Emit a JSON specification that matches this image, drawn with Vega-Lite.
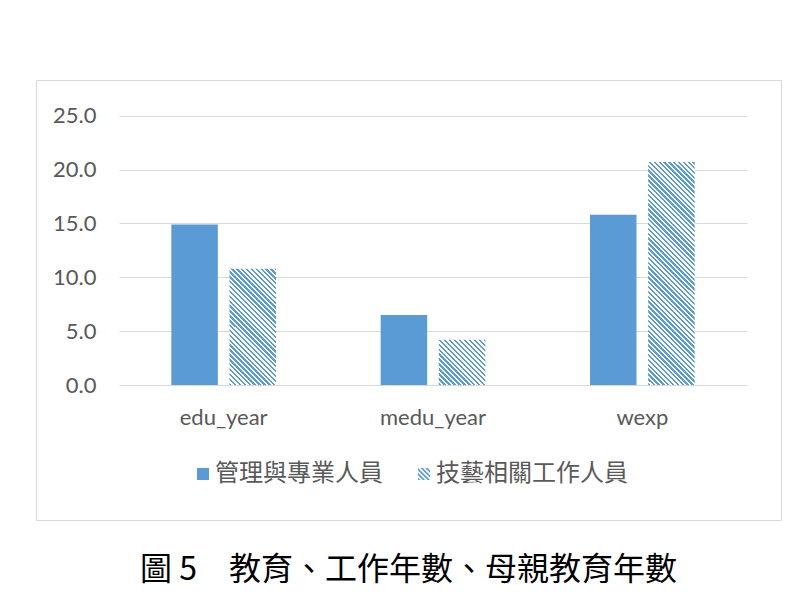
{
  "$schema": "https://vega.github.io/schema/vega-lite/v6.json",
  "width": 745,
  "height": 440,
  "autosize": {"type": "none"},
  "padding": {"left": 36, "top": 80, "right": 14, "bottom": 72},
  "background": "#ffffff",
  "config": {
    "view": {"stroke": "#d9d9d9", "strokeWidth": 1},
    "axis": {"labelFont": "Lato", "labelFontSize": 22, "labelColor": "#595959"}
  },
  "title": {
    "text": "圖 5　教育、工作年數、母親教育年數",
    "orient": "bottom",
    "anchor": "middle",
    "offset": 35,
    "baseline": "top",
    "font": "Noto Sans CJK TC",
    "fontSize": 32,
    "fontWeight": "normal",
    "color": "#000000"
  },
  "data": {
    "values": [
      {"category": "edu_year", "group": "管理與專業人員", "value": 14.9},
      {"category": "edu_year", "group": "技藝相關工作人員", "value": 10.8},
      {"category": "medu_year", "group": "管理與專業人員", "value": 6.5},
      {"category": "medu_year", "group": "技藝相關工作人員", "value": 4.2},
      {"category": "wexp", "group": "管理與專業人員", "value": 15.8},
      {"category": "wexp", "group": "技藝相關工作人員", "value": 20.7}
    ]
  },
  "encoding": {
    "x": {
      "field": "category", "type": "nominal",
      "scale": {"domain": ["edu_year", "medu_year", "wexp"], "range": [83, 711], "paddingInner": 0.5, "paddingOuter": 0.25},
      "axis": {"title": null, "orient": "bottom", "offset": -135, "domain": false, "ticks": false, "labelPadding": 22, "labelAngle": 0, "grid": false}
    },
    "xOffset": {
      "field": "group", "type": "nominal",
      "scale": {"domain": ["管理與專業人員", "技藝相關工作人員"], "paddingInner": 0.2, "paddingOuter": 0}
    },
    "y": {
      "field": "value", "type": "quantitative",
      "scale": {"domain": [0, 25], "range": [305, 35.67], "nice": false},
      "axis": {"title": null, "values": [0, 5, 10, 15, 20, 25], "format": ".1f", "offset": -83, "domain": false, "ticks": false, "labelPadding": 23, "grid": true, "gridColor": "#d9d9d9", "gridWidth": 1}
    }
  },
  "layer": [
    {
      "transform": [{"filter": "datum.group === '管理與專業人員'"}],
      "mark": {"type": "bar"},
      "encoding": {
        "color": {
          "field": "group", "type": "nominal",
          "scale": {"domain": ["管理與專業人員", "技藝相關工作人員"], "range": ["#5b9bd5", "#5b9bd5"]},
          "legend": {
            "orient": "none", "legendX": 155, "legendY": 382, "direction": "horizontal", "title": null,
            "symbolType": {"expr": "datum.value === '技藝相關工作人員' ? 'M-1,1L-1,0.6L-0.6,1ZM-1,0.2L-1,-0.2L0.2,1L-0.2,1ZM-1,-0.6L-1,-1L1,1L0.6,1ZM-0.6,-1L-0.2,-1L1,0.2L1,0.6ZM0.2,-1L0.6,-1L1,-0.6L1,-0.2Z' : 'square'"},
            "symbolSize": 144, "symbolStrokeWidth": 0,
            "labelFont": "Noto Sans CJK TC", "labelFontSize": 24, "labelColor": "#595959", "labelLimit": 0,
            "labelOffset": 0, "columnPadding": 29, "padding": 0
          }
        }
      }
    },
    {
      "transform": [{"filter": "datum.group === '技藝相關工作人員' && datum.category === 'edu_year'"}],
      "mark": {"type": "bar", "fill": {"gradient": "linear", "x1": 0, "y1": 1, "x2": 0.4825, "y2": -0.2069, "stops": [
        {"offset": 0, "color": "#5b9bd5"},
        {"offset": 0.015, "color": "#5b9bd5"}, {"offset": 0.015, "color": "#fff"},
        {"offset": 0.03, "color": "#fff"}, {"offset": 0.03, "color": "#5b9bd5"},
        {"offset": 0.045, "color": "#5b9bd5"}, {"offset": 0.045, "color": "#fff"},
        {"offset": 0.06, "color": "#fff"}, {"offset": 0.06, "color": "#5b9bd5"},
        {"offset": 0.075, "color": "#5b9bd5"}, {"offset": 0.075, "color": "#fff"},
        {"offset": 0.09, "color": "#fff"}, {"offset": 0.09, "color": "#5b9bd5"},
        {"offset": 0.105, "color": "#5b9bd5"}, {"offset": 0.105, "color": "#fff"},
        {"offset": 0.12, "color": "#fff"}, {"offset": 0.12, "color": "#5b9bd5"},
        {"offset": 0.135, "color": "#5b9bd5"}, {"offset": 0.135, "color": "#fff"},
        {"offset": 0.15, "color": "#fff"}, {"offset": 0.15, "color": "#5b9bd5"},
        {"offset": 0.165, "color": "#5b9bd5"}, {"offset": 0.165, "color": "#fff"},
        {"offset": 0.18, "color": "#fff"}, {"offset": 0.18, "color": "#5b9bd5"},
        {"offset": 0.195, "color": "#5b9bd5"}, {"offset": 0.195, "color": "#fff"},
        {"offset": 0.21, "color": "#fff"}, {"offset": 0.21, "color": "#5b9bd5"},
        {"offset": 0.225, "color": "#5b9bd5"}, {"offset": 0.225, "color": "#fff"},
        {"offset": 0.24, "color": "#fff"}, {"offset": 0.24, "color": "#5b9bd5"},
        {"offset": 0.255, "color": "#5b9bd5"}, {"offset": 0.255, "color": "#fff"},
        {"offset": 0.27, "color": "#fff"}, {"offset": 0.27, "color": "#5b9bd5"},
        {"offset": 0.285, "color": "#5b9bd5"}, {"offset": 0.285, "color": "#fff"},
        {"offset": 0.3, "color": "#fff"}, {"offset": 0.3, "color": "#5b9bd5"},
        {"offset": 0.315, "color": "#5b9bd5"}, {"offset": 0.315, "color": "#fff"},
        {"offset": 0.33, "color": "#fff"}, {"offset": 0.33, "color": "#5b9bd5"},
        {"offset": 0.345, "color": "#5b9bd5"}, {"offset": 0.345, "color": "#fff"},
        {"offset": 0.36, "color": "#fff"}, {"offset": 0.36, "color": "#5b9bd5"},
        {"offset": 0.375, "color": "#5b9bd5"}, {"offset": 0.375, "color": "#fff"},
        {"offset": 0.39, "color": "#fff"}, {"offset": 0.39, "color": "#5b9bd5"},
        {"offset": 0.405, "color": "#5b9bd5"}, {"offset": 0.405, "color": "#fff"},
        {"offset": 0.42, "color": "#fff"}, {"offset": 0.42, "color": "#5b9bd5"},
        {"offset": 0.435, "color": "#5b9bd5"}, {"offset": 0.435, "color": "#fff"},
        {"offset": 0.45, "color": "#fff"}, {"offset": 0.45, "color": "#5b9bd5"},
        {"offset": 0.465, "color": "#5b9bd5"}, {"offset": 0.465, "color": "#fff"},
        {"offset": 0.48, "color": "#fff"}, {"offset": 0.48, "color": "#5b9bd5"},
        {"offset": 0.495, "color": "#5b9bd5"}, {"offset": 0.495, "color": "#fff"},
        {"offset": 0.51, "color": "#fff"}, {"offset": 0.51, "color": "#5b9bd5"},
        {"offset": 0.525, "color": "#5b9bd5"}, {"offset": 0.525, "color": "#fff"},
        {"offset": 0.54, "color": "#fff"}, {"offset": 0.54, "color": "#5b9bd5"},
        {"offset": 0.555, "color": "#5b9bd5"}, {"offset": 0.555, "color": "#fff"},
        {"offset": 0.57, "color": "#fff"}, {"offset": 0.57, "color": "#5b9bd5"},
        {"offset": 0.585, "color": "#5b9bd5"}, {"offset": 0.585, "color": "#fff"},
        {"offset": 0.6, "color": "#fff"}, {"offset": 0.6, "color": "#5b9bd5"},
        {"offset": 0.615, "color": "#5b9bd5"}, {"offset": 0.615, "color": "#fff"},
        {"offset": 0.63, "color": "#fff"}, {"offset": 0.63, "color": "#5b9bd5"},
        {"offset": 0.645, "color": "#5b9bd5"}, {"offset": 0.645, "color": "#fff"},
        {"offset": 0.66, "color": "#fff"}, {"offset": 0.66, "color": "#5b9bd5"},
        {"offset": 0.675, "color": "#5b9bd5"}, {"offset": 0.675, "color": "#fff"},
        {"offset": 0.69, "color": "#fff"}, {"offset": 0.69, "color": "#5b9bd5"},
        {"offset": 0.705, "color": "#5b9bd5"}, {"offset": 0.705, "color": "#fff"},
        {"offset": 0.72, "color": "#fff"}, {"offset": 0.72, "color": "#5b9bd5"},
        {"offset": 0.735, "color": "#5b9bd5"}, {"offset": 0.735, "color": "#fff"},
        {"offset": 0.75, "color": "#fff"}, {"offset": 0.75, "color": "#5b9bd5"},
        {"offset": 0.765, "color": "#5b9bd5"}, {"offset": 0.765, "color": "#fff"},
        {"offset": 0.78, "color": "#fff"}, {"offset": 0.78, "color": "#5b9bd5"},
        {"offset": 0.795, "color": "#5b9bd5"}, {"offset": 0.795, "color": "#fff"},
        {"offset": 0.81, "color": "#fff"}, {"offset": 0.81, "color": "#5b9bd5"},
        {"offset": 0.825, "color": "#5b9bd5"}, {"offset": 0.825, "color": "#fff"},
        {"offset": 0.84, "color": "#fff"}, {"offset": 0.84, "color": "#5b9bd5"},
        {"offset": 0.855, "color": "#5b9bd5"}, {"offset": 0.855, "color": "#fff"},
        {"offset": 0.87, "color": "#fff"}, {"offset": 0.87, "color": "#5b9bd5"},
        {"offset": 0.885, "color": "#5b9bd5"}, {"offset": 0.885, "color": "#fff"},
        {"offset": 0.9, "color": "#fff"}, {"offset": 0.9, "color": "#5b9bd5"},
        {"offset": 0.915, "color": "#5b9bd5"}, {"offset": 0.915, "color": "#fff"},
        {"offset": 0.93, "color": "#fff"}, {"offset": 0.93, "color": "#5b9bd5"},
        {"offset": 0.945, "color": "#5b9bd5"}, {"offset": 0.945, "color": "#fff"},
        {"offset": 0.96, "color": "#fff"}, {"offset": 0.96, "color": "#5b9bd5"},
        {"offset": 0.975, "color": "#5b9bd5"}, {"offset": 0.975, "color": "#fff"},
        {"offset": 0.99, "color": "#fff"}, {"offset": 0.99, "color": "#5b9bd5"},
        {"offset": 1, "color": "#5b9bd5"}
      ]}}
    },
    {
      "transform": [{"filter": "datum.group === '技藝相關工作人員' && datum.category === 'medu_year'"}],
      "mark": {"type": "bar", "fill": {"gradient": "linear", "x1": 0, "y1": 1, "x2": 1.0134, "y2": 0.0138, "stops": [
        {"offset": 0, "color": "#5b9bd5"},
        {"offset": 0.027, "color": "#5b9bd5"}, {"offset": 0.027, "color": "#fff"},
        {"offset": 0.054, "color": "#fff"}, {"offset": 0.054, "color": "#5b9bd5"},
        {"offset": 0.081, "color": "#5b9bd5"}, {"offset": 0.081, "color": "#fff"},
        {"offset": 0.108, "color": "#fff"}, {"offset": 0.108, "color": "#5b9bd5"},
        {"offset": 0.135, "color": "#5b9bd5"}, {"offset": 0.135, "color": "#fff"},
        {"offset": 0.162, "color": "#fff"}, {"offset": 0.162, "color": "#5b9bd5"},
        {"offset": 0.189, "color": "#5b9bd5"}, {"offset": 0.189, "color": "#fff"},
        {"offset": 0.216, "color": "#fff"}, {"offset": 0.216, "color": "#5b9bd5"},
        {"offset": 0.243, "color": "#5b9bd5"}, {"offset": 0.243, "color": "#fff"},
        {"offset": 0.27, "color": "#fff"}, {"offset": 0.27, "color": "#5b9bd5"},
        {"offset": 0.297, "color": "#5b9bd5"}, {"offset": 0.297, "color": "#fff"},
        {"offset": 0.324, "color": "#fff"}, {"offset": 0.324, "color": "#5b9bd5"},
        {"offset": 0.351, "color": "#5b9bd5"}, {"offset": 0.351, "color": "#fff"},
        {"offset": 0.378, "color": "#fff"}, {"offset": 0.378, "color": "#5b9bd5"},
        {"offset": 0.405, "color": "#5b9bd5"}, {"offset": 0.405, "color": "#fff"},
        {"offset": 0.432, "color": "#fff"}, {"offset": 0.432, "color": "#5b9bd5"},
        {"offset": 0.459, "color": "#5b9bd5"}, {"offset": 0.459, "color": "#fff"},
        {"offset": 0.486, "color": "#fff"}, {"offset": 0.486, "color": "#5b9bd5"},
        {"offset": 0.513, "color": "#5b9bd5"}, {"offset": 0.513, "color": "#fff"},
        {"offset": 0.54, "color": "#fff"}, {"offset": 0.54, "color": "#5b9bd5"},
        {"offset": 0.567, "color": "#5b9bd5"}, {"offset": 0.567, "color": "#fff"},
        {"offset": 0.594, "color": "#fff"}, {"offset": 0.594, "color": "#5b9bd5"},
        {"offset": 0.621, "color": "#5b9bd5"}, {"offset": 0.621, "color": "#fff"},
        {"offset": 0.648, "color": "#fff"}, {"offset": 0.648, "color": "#5b9bd5"},
        {"offset": 0.675, "color": "#5b9bd5"}, {"offset": 0.675, "color": "#fff"},
        {"offset": 0.702, "color": "#fff"}, {"offset": 0.702, "color": "#5b9bd5"},
        {"offset": 0.729, "color": "#5b9bd5"}, {"offset": 0.729, "color": "#fff"},
        {"offset": 0.756, "color": "#fff"}, {"offset": 0.756, "color": "#5b9bd5"},
        {"offset": 0.783, "color": "#5b9bd5"}, {"offset": 0.783, "color": "#fff"},
        {"offset": 0.81, "color": "#fff"}, {"offset": 0.81, "color": "#5b9bd5"},
        {"offset": 0.837, "color": "#5b9bd5"}, {"offset": 0.837, "color": "#fff"},
        {"offset": 0.864, "color": "#fff"}, {"offset": 0.864, "color": "#5b9bd5"},
        {"offset": 0.891, "color": "#5b9bd5"}, {"offset": 0.891, "color": "#fff"},
        {"offset": 0.918, "color": "#fff"}, {"offset": 0.918, "color": "#5b9bd5"},
        {"offset": 0.945, "color": "#5b9bd5"}, {"offset": 0.945, "color": "#fff"},
        {"offset": 0.972, "color": "#fff"}, {"offset": 0.972, "color": "#5b9bd5"},
        {"offset": 0.999, "color": "#5b9bd5"}, {"offset": 0.999, "color": "#fff"},
        {"offset": 1, "color": "#fff"}
      ]}}
    },
    {
      "transform": [{"filter": "datum.group === '技藝相關工作人員' && datum.category === 'wexp'"}],
      "mark": {"type": "bar", "fill": {"gradient": "linear", "x1": 0, "y1": 1, "x2": 0.2415, "y2": -0.1582, "stops": [
        {"offset": 0, "color": "#5b9bd5"},
        {"offset": 0.009, "color": "#5b9bd5"}, {"offset": 0.009, "color": "#fff"},
        {"offset": 0.018, "color": "#fff"}, {"offset": 0.018, "color": "#5b9bd5"},
        {"offset": 0.027, "color": "#5b9bd5"}, {"offset": 0.027, "color": "#fff"},
        {"offset": 0.036, "color": "#fff"}, {"offset": 0.036, "color": "#5b9bd5"},
        {"offset": 0.045, "color": "#5b9bd5"}, {"offset": 0.045, "color": "#fff"},
        {"offset": 0.054, "color": "#fff"}, {"offset": 0.054, "color": "#5b9bd5"},
        {"offset": 0.063, "color": "#5b9bd5"}, {"offset": 0.063, "color": "#fff"},
        {"offset": 0.072, "color": "#fff"}, {"offset": 0.072, "color": "#5b9bd5"},
        {"offset": 0.081, "color": "#5b9bd5"}, {"offset": 0.081, "color": "#fff"},
        {"offset": 0.09, "color": "#fff"}, {"offset": 0.09, "color": "#5b9bd5"},
        {"offset": 0.099, "color": "#5b9bd5"}, {"offset": 0.099, "color": "#fff"},
        {"offset": 0.108, "color": "#fff"}, {"offset": 0.108, "color": "#5b9bd5"},
        {"offset": 0.117, "color": "#5b9bd5"}, {"offset": 0.117, "color": "#fff"},
        {"offset": 0.126, "color": "#fff"}, {"offset": 0.126, "color": "#5b9bd5"},
        {"offset": 0.135, "color": "#5b9bd5"}, {"offset": 0.135, "color": "#fff"},
        {"offset": 0.144, "color": "#fff"}, {"offset": 0.144, "color": "#5b9bd5"},
        {"offset": 0.153, "color": "#5b9bd5"}, {"offset": 0.153, "color": "#fff"},
        {"offset": 0.162, "color": "#fff"}, {"offset": 0.162, "color": "#5b9bd5"},
        {"offset": 0.171, "color": "#5b9bd5"}, {"offset": 0.171, "color": "#fff"},
        {"offset": 0.18, "color": "#fff"}, {"offset": 0.18, "color": "#5b9bd5"},
        {"offset": 0.189, "color": "#5b9bd5"}, {"offset": 0.189, "color": "#fff"},
        {"offset": 0.198, "color": "#fff"}, {"offset": 0.198, "color": "#5b9bd5"},
        {"offset": 0.207, "color": "#5b9bd5"}, {"offset": 0.207, "color": "#fff"},
        {"offset": 0.216, "color": "#fff"}, {"offset": 0.216, "color": "#5b9bd5"},
        {"offset": 0.225, "color": "#5b9bd5"}, {"offset": 0.225, "color": "#fff"},
        {"offset": 0.234, "color": "#fff"}, {"offset": 0.234, "color": "#5b9bd5"},
        {"offset": 0.243, "color": "#5b9bd5"}, {"offset": 0.243, "color": "#fff"},
        {"offset": 0.252, "color": "#fff"}, {"offset": 0.252, "color": "#5b9bd5"},
        {"offset": 0.261, "color": "#5b9bd5"}, {"offset": 0.261, "color": "#fff"},
        {"offset": 0.27, "color": "#fff"}, {"offset": 0.27, "color": "#5b9bd5"},
        {"offset": 0.279, "color": "#5b9bd5"}, {"offset": 0.279, "color": "#fff"},
        {"offset": 0.288, "color": "#fff"}, {"offset": 0.288, "color": "#5b9bd5"},
        {"offset": 0.297, "color": "#5b9bd5"}, {"offset": 0.297, "color": "#fff"},
        {"offset": 0.306, "color": "#fff"}, {"offset": 0.306, "color": "#5b9bd5"},
        {"offset": 0.315, "color": "#5b9bd5"}, {"offset": 0.315, "color": "#fff"},
        {"offset": 0.324, "color": "#fff"}, {"offset": 0.324, "color": "#5b9bd5"},
        {"offset": 0.333, "color": "#5b9bd5"}, {"offset": 0.333, "color": "#fff"},
        {"offset": 0.342, "color": "#fff"}, {"offset": 0.342, "color": "#5b9bd5"},
        {"offset": 0.351, "color": "#5b9bd5"}, {"offset": 0.351, "color": "#fff"},
        {"offset": 0.36, "color": "#fff"}, {"offset": 0.36, "color": "#5b9bd5"},
        {"offset": 0.369, "color": "#5b9bd5"}, {"offset": 0.369, "color": "#fff"},
        {"offset": 0.378, "color": "#fff"}, {"offset": 0.378, "color": "#5b9bd5"},
        {"offset": 0.387, "color": "#5b9bd5"}, {"offset": 0.387, "color": "#fff"},
        {"offset": 0.396, "color": "#fff"}, {"offset": 0.396, "color": "#5b9bd5"},
        {"offset": 0.405, "color": "#5b9bd5"}, {"offset": 0.405, "color": "#fff"},
        {"offset": 0.414, "color": "#fff"}, {"offset": 0.414, "color": "#5b9bd5"},
        {"offset": 0.423, "color": "#5b9bd5"}, {"offset": 0.423, "color": "#fff"},
        {"offset": 0.432, "color": "#fff"}, {"offset": 0.432, "color": "#5b9bd5"},
        {"offset": 0.441, "color": "#5b9bd5"}, {"offset": 0.441, "color": "#fff"},
        {"offset": 0.45, "color": "#fff"}, {"offset": 0.45, "color": "#5b9bd5"},
        {"offset": 0.459, "color": "#5b9bd5"}, {"offset": 0.459, "color": "#fff"},
        {"offset": 0.468, "color": "#fff"}, {"offset": 0.468, "color": "#5b9bd5"},
        {"offset": 0.477, "color": "#5b9bd5"}, {"offset": 0.477, "color": "#fff"},
        {"offset": 0.486, "color": "#fff"}, {"offset": 0.486, "color": "#5b9bd5"},
        {"offset": 0.495, "color": "#5b9bd5"}, {"offset": 0.495, "color": "#fff"},
        {"offset": 0.504, "color": "#fff"}, {"offset": 0.504, "color": "#5b9bd5"},
        {"offset": 0.513, "color": "#5b9bd5"}, {"offset": 0.513, "color": "#fff"},
        {"offset": 0.522, "color": "#fff"}, {"offset": 0.522, "color": "#5b9bd5"},
        {"offset": 0.531, "color": "#5b9bd5"}, {"offset": 0.531, "color": "#fff"},
        {"offset": 0.54, "color": "#fff"}, {"offset": 0.54, "color": "#5b9bd5"},
        {"offset": 0.549, "color": "#5b9bd5"}, {"offset": 0.549, "color": "#fff"},
        {"offset": 0.558, "color": "#fff"}, {"offset": 0.558, "color": "#5b9bd5"},
        {"offset": 0.567, "color": "#5b9bd5"}, {"offset": 0.567, "color": "#fff"},
        {"offset": 0.576, "color": "#fff"}, {"offset": 0.576, "color": "#5b9bd5"},
        {"offset": 0.585, "color": "#5b9bd5"}, {"offset": 0.585, "color": "#fff"},
        {"offset": 0.594, "color": "#fff"}, {"offset": 0.594, "color": "#5b9bd5"},
        {"offset": 0.603, "color": "#5b9bd5"}, {"offset": 0.603, "color": "#fff"},
        {"offset": 0.612, "color": "#fff"}, {"offset": 0.612, "color": "#5b9bd5"},
        {"offset": 0.621, "color": "#5b9bd5"}, {"offset": 0.621, "color": "#fff"},
        {"offset": 0.63, "color": "#fff"}, {"offset": 0.63, "color": "#5b9bd5"},
        {"offset": 0.639, "color": "#5b9bd5"}, {"offset": 0.639, "color": "#fff"},
        {"offset": 0.648, "color": "#fff"}, {"offset": 0.648, "color": "#5b9bd5"},
        {"offset": 0.657, "color": "#5b9bd5"}, {"offset": 0.657, "color": "#fff"},
        {"offset": 0.666, "color": "#fff"}, {"offset": 0.666, "color": "#5b9bd5"},
        {"offset": 0.675, "color": "#5b9bd5"}, {"offset": 0.675, "color": "#fff"},
        {"offset": 0.684, "color": "#fff"}, {"offset": 0.684, "color": "#5b9bd5"},
        {"offset": 0.693, "color": "#5b9bd5"}, {"offset": 0.693, "color": "#fff"},
        {"offset": 0.702, "color": "#fff"}, {"offset": 0.702, "color": "#5b9bd5"},
        {"offset": 0.711, "color": "#5b9bd5"}, {"offset": 0.711, "color": "#fff"},
        {"offset": 0.72, "color": "#fff"}, {"offset": 0.72, "color": "#5b9bd5"},
        {"offset": 0.729, "color": "#5b9bd5"}, {"offset": 0.729, "color": "#fff"},
        {"offset": 0.738, "color": "#fff"}, {"offset": 0.738, "color": "#5b9bd5"},
        {"offset": 0.747, "color": "#5b9bd5"}, {"offset": 0.747, "color": "#fff"},
        {"offset": 0.756, "color": "#fff"}, {"offset": 0.756, "color": "#5b9bd5"},
        {"offset": 0.765, "color": "#5b9bd5"}, {"offset": 0.765, "color": "#fff"},
        {"offset": 0.774, "color": "#fff"}, {"offset": 0.774, "color": "#5b9bd5"},
        {"offset": 0.783, "color": "#5b9bd5"}, {"offset": 0.783, "color": "#fff"},
        {"offset": 0.792, "color": "#fff"}, {"offset": 0.792, "color": "#5b9bd5"},
        {"offset": 0.801, "color": "#5b9bd5"}, {"offset": 0.801, "color": "#fff"},
        {"offset": 0.81, "color": "#fff"}, {"offset": 0.81, "color": "#5b9bd5"},
        {"offset": 0.819, "color": "#5b9bd5"}, {"offset": 0.819, "color": "#fff"},
        {"offset": 0.828, "color": "#fff"}, {"offset": 0.828, "color": "#5b9bd5"},
        {"offset": 0.837, "color": "#5b9bd5"}, {"offset": 0.837, "color": "#fff"},
        {"offset": 0.846, "color": "#fff"}, {"offset": 0.846, "color": "#5b9bd5"},
        {"offset": 0.855, "color": "#5b9bd5"}, {"offset": 0.855, "color": "#fff"},
        {"offset": 0.864, "color": "#fff"}, {"offset": 0.864, "color": "#5b9bd5"},
        {"offset": 0.873, "color": "#5b9bd5"}, {"offset": 0.873, "color": "#fff"},
        {"offset": 0.882, "color": "#fff"}, {"offset": 0.882, "color": "#5b9bd5"},
        {"offset": 0.891, "color": "#5b9bd5"}, {"offset": 0.891, "color": "#fff"},
        {"offset": 0.9, "color": "#fff"}, {"offset": 0.9, "color": "#5b9bd5"},
        {"offset": 0.909, "color": "#5b9bd5"}, {"offset": 0.909, "color": "#fff"},
        {"offset": 0.918, "color": "#fff"}, {"offset": 0.918, "color": "#5b9bd5"},
        {"offset": 0.927, "color": "#5b9bd5"}, {"offset": 0.927, "color": "#fff"},
        {"offset": 0.936, "color": "#fff"}, {"offset": 0.936, "color": "#5b9bd5"},
        {"offset": 0.945, "color": "#5b9bd5"}, {"offset": 0.945, "color": "#fff"},
        {"offset": 0.954, "color": "#fff"}, {"offset": 0.954, "color": "#5b9bd5"},
        {"offset": 0.963, "color": "#5b9bd5"}, {"offset": 0.963, "color": "#fff"},
        {"offset": 0.972, "color": "#fff"}, {"offset": 0.972, "color": "#5b9bd5"},
        {"offset": 0.981, "color": "#5b9bd5"}, {"offset": 0.981, "color": "#fff"},
        {"offset": 0.99, "color": "#fff"}, {"offset": 0.99, "color": "#5b9bd5"},
        {"offset": 0.999, "color": "#5b9bd5"}, {"offset": 0.999, "color": "#fff"},
        {"offset": 1, "color": "#fff"}
      ]}}
    }
  ]
}
